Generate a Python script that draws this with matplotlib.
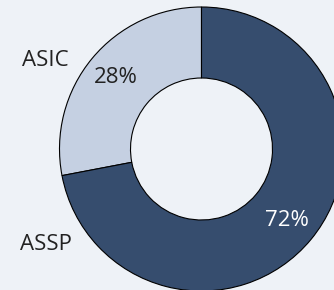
import matplotlib
matplotlib.use("Agg")
import matplotlib.pyplot as plt

# Market share by chip type.
labels = ["ASIC", "ASSP"]
shares = [28, 72]
colors = ["#c5d0e2", "#364d6e"]
pct_colors = ["#222222", "#ffffff"]

BG = "#eef2f7"
W, H = 334, 290

plt.rcParams["font.family"] = ["Open Sans", "DejaVu Sans"]

fig = plt.figure(figsize=(W / 100, H / 100), dpi=100, facecolor=BG)
ax = fig.add_axes([0, 0, 1, 1])
ax.set_facecolor(BG)

# Work in pixel units so the donut lands where the reference has it.
cx, cy, R = 201.5, H - 149, 142
wedges, texts, autotexts = ax.pie(
    shares, colors=colors, startangle=90, counterclock=True,
    radius=R, center=(cx, cy), autopct="%d%%", pctdistance=0.785,
    wedgeprops=dict(width=R / 2, edgecolor="black", linewidth=0.8),
    textprops=dict(fontsize=16),
)
for t, c in zip(autotexts, pct_colors):
    t.set_color(c)

# Category names sit out to the left.
ax.text(45, H - 61, labels[0], fontsize=16, color="#222222",
        ha="center", va="center")
ax.text(46, H - 244.5, labels[1], fontsize=16, color="#222222",
        ha="center", va="center")

ax.set_xlim(0, W)
ax.set_ylim(0, H)
ax.set_aspect("equal")
ax.axis("off")

fig.savefig("out.png", dpi=100, facecolor=BG)
